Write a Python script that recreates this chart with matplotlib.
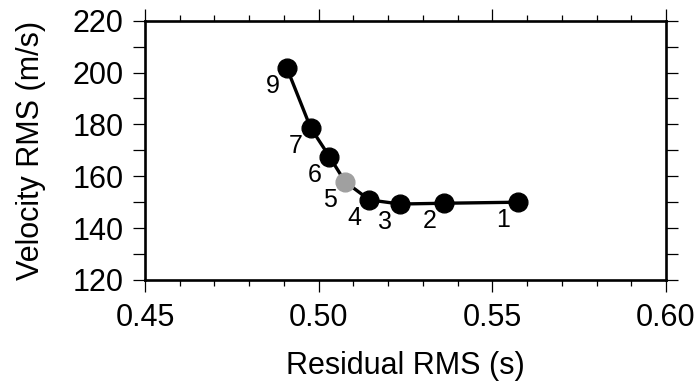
import matplotlib
matplotlib.use("Agg")
import matplotlib.pyplot as plt
from matplotlib.ticker import MultipleLocator

plt.rcParams['font.family'] = ['Liberation Sans', 'DejaVu Sans']

# L-curve: residual RMS vs velocity RMS for each damping index
residual = [0.5573, 0.5362, 0.5234, 0.5146, 0.5076, 0.5031, 0.4977, 0.4909]
velocity = [150.0, 149.6, 149.3, 150.9, 157.9, 167.6, 178.7, 201.6]
labels = ['1', '2', '3', '4', '5', '6', '7', '9']
chosen = '5'

fig = plt.figure(figsize=(6.97, 3.87), dpi=100)
ax = fig.add_axes([0.208, 0.2765, 0.7475, 0.67])

ax.plot(residual, velocity, '-', color='k', lw=2.4, zorder=2)
for x, y, lab in zip(residual, velocity, labels):
    c = '#a0a0a0' if lab == chosen else 'k'
    ax.plot(x, y, 'o', color=c, ms=13.5, mec=c, zorder=3)
    ax.annotate(lab, (x, y), xytext=(-10.5, -13), textcoords='offset points',
                ha='center', va='center', fontsize=18)

ax.set_xlim(0.45, 0.60)
ax.set_ylim(120, 220)
ax.xaxis.set_major_locator(MultipleLocator(0.05))
ax.xaxis.set_minor_locator(MultipleLocator(0.01))
ax.yaxis.set_major_locator(MultipleLocator(20))
ax.yaxis.set_minor_locator(MultipleLocator(10))
ax.xaxis.set_major_formatter(plt.FormatStrFormatter('%.2f'))

ax.tick_params(which='both', direction='out', top=True, right=True, width=0.9,
               labelsize=22)
ax.tick_params(axis='x', which='major', length=8.6, pad=8)
ax.tick_params(axis='x', which='minor', length=4.5)
ax.tick_params(axis='y', which='both', length=8.6, pad=7)
for s in ax.spines.values():
    s.set_linewidth(1.9)

ax.set_xlabel('Residual RMS (s)', fontsize=22, labelpad=13)
ax.set_ylabel('Velocity RMS (m/s)', fontsize=22, labelpad=19)

fig.savefig('out.png', dpi=100)
